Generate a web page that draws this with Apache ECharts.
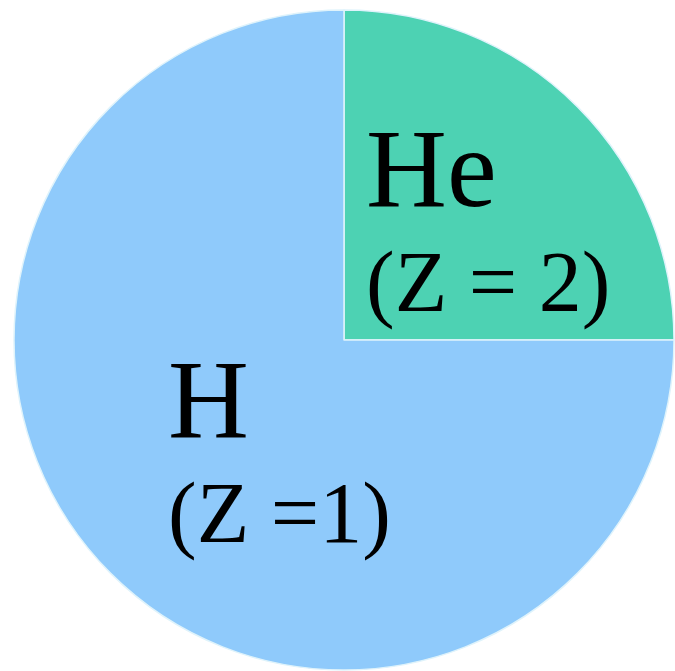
<!DOCTYPE html>
<html>
<head>
<meta charset="utf-8">
<script src="https://cdn.jsdelivr.net/npm/echarts@6/dist/echarts.min.js"></script>
<style>
  html, body { margin: 0; padding: 0; background: #fff; }
  #main { width: 675px; height: 671px; }
</style>
</head>
<body>
<div id="main"></div>
<script>
// element shares of the pie
var elements = ['He', 'H'];
var atomicNumbers = ['Z = 2', 'Z =1'];
var shares = [25, 75];
var colors = ['#4dd2b3', '#8fcafb'];

// where each label block starts (top-left)
var labelSpots = [[366, 121], [168, 352]];

function showChart() {
    var myChart = echarts.init(document.getElementById('main'));

    var data = elements.map(function (name, i) {
        return {
            name: name,
            value: shares[i],
            sub: atomicNumbers[i],
            itemStyle: { color: colors[i] }
        };
    });

    var option = {
        animation: false,
        series: [{
            type: 'pie',
            center: [344, 340],
            radius: [0, 330],
            startAngle: 90,
            clockwise: true,
            silent: true,
            itemStyle: {
                borderColor: '#dff3fb',
                borderWidth: 1.5
            },
            label: {
                show: true,
                position: 'inside',
                formatter: function (p) {
                    return '{n|' + p.name + '}\n{z|(' + p.data.sub + ')}';
                },
                rich: {
                    n: {
                        fontFamily: 'Liberation Serif',
                        fontSize: 112,
                        color: '#000',
                        lineHeight: 112,
                        align: 'left'
                    },
                    z: {
                        fontFamily: 'Liberation Serif',
                        fontSize: 86,
                        color: '#000',
                        lineHeight: 110,
                        align: 'left'
                    }
                }
            },
            labelLine: { show: false },
            labelLayout: function (p) {
                var spot = labelSpots[p.dataIndex];
                return {
                    x: spot[0],
                    y: spot[1],
                    align: 'left',
                    verticalAlign: 'top'
                };
            },
            data: data
        }]
    };

    // 使用刚指定的配置项和数据显示图表。
    myChart.setOption(option);
}

showChart();
</script>
</body>
</html>
